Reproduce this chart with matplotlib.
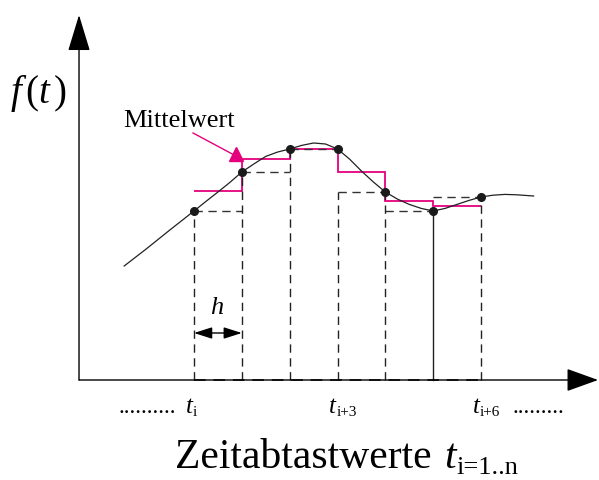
import numpy as np
import matplotlib
matplotlib.use("Agg")
import matplotlib.pyplot as plt

plt.rcParams['font.family'] = ['Liberation Serif', 'DejaVu Serif']
plt.rcParams['mathtext.fontset'] = 'custom'
plt.rcParams['mathtext.rm'] = 'Liberation Serif'
plt.rcParams['mathtext.it'] = 'Liberation Serif:italic'

# Abtastzeitpunkte (Index i .. i+6) und Funktionswerte
t_samples = [0, 1, 2, 3, 4, 5, 6]
f_samples = [8.45, 10.4, 11.55, 11.55, 9.4, 8.45, 9.15]

# Verlauf von f(t)
t_curve = [-1.46, -1.0, -0.5, 0, 0.25, 0.5, 0.75, 1.0, 1.25, 1.5, 1.75, 2.0, 2.25, 2.5,
           2.75, 3.0, 3.25, 3.5, 3.75, 4.0, 4.25, 4.5, 4.75, 5.0, 5.25, 5.5, 5.75, 6.0,
           6.25, 6.5, 6.75, 7.1]
f_curve = [5.7, 6.55, 7.51, 8.45, 8.93, 9.4, 9.88, 10.4, 10.8, 11.18, 11.4, 11.55, 11.73, 11.85,
           11.8, 11.55, 11.05, 10.45, 9.9, 9.4, 9.05, 8.78, 8.58, 8.45, 8.58, 8.78, 8.98, 9.15,
           9.24, 9.28, 9.26, 9.2]

# Mittelwert je Intervall (magenta Treppe)
mittelwert = [9.45, 11.05, 11.55, 10.42, 8.95, 8.7]
# Hoehe der gestrichelten Rechtecke
rect_hoehe = [8.45, 10.4, 11.55, 9.4, 8.45, 9.15]
# obere Enden der senkrechten Linien
vline_top = [8.45, 10.4, 11.55, 9.4, 9.4, 8.45, 9.15]
vline_solid = [False, False, False, False, False, True, False]

tick_pos = [0, 3, 6]
tick_sub = ['i', 'i+3', 'i+6']

MAGENTA = '#E5007D'
DASH = (0, (6, 4))


def t_index(ax, x, y, sub, fs, sub_fs, dx, dy):
    # kursives t mit aufrechtem Index
    ax.text(x, y, 't', fontsize=fs, style='italic', ha='left', va='baseline')
    ax.annotate(sub, xy=(x, y), xytext=(dx, dy), textcoords='offset points',
                fontsize=sub_fs, ha='left', va='baseline')


fig = plt.figure(figsize=(5.99, 4.8), dpi=100)
ax = fig.add_axes([0, 0, 1, 1])
ax.set_xlim(-4.056, 8.467)
ax.set_ylim(-5, 19)
ax.axis('off')

t0 = -2.404  # Lage der f-Achse

# Achsen mit Pfeilen
ax.annotate('', xy=(t0, 18.25), xytext=(t0, 0),
            arrowprops=dict(arrowstyle='-|>,head_length=2.3,head_width=0.7', mutation_scale=10,
                            lw=1.0, color='black', shrinkA=0, shrinkB=0))
ax.annotate('', xy=(8.447, 0), xytext=(t0, 0),
            arrowprops=dict(arrowstyle='-|>,head_length=2.0,head_width=0.72', mutation_scale=10,
                            lw=1.0, color='black', shrinkA=0, shrinkB=0))
ax.plot([t_samples[0], t_samples[-1]], [0, 0], color='#333333', lw=1.4, ls=DASH)

# gestrichelte Rechtecke
for k in range(len(rect_hoehe)):
    ax.plot([t_samples[k], t_samples[k + 1]], [rect_hoehe[k], rect_hoehe[k]],
            color='#333333', lw=1.0, ls=DASH)
for k, t in enumerate(t_samples):
    ax.plot([t, t], [0, vline_top[k]], color='#222222', lw=1.0,
            ls='-' if vline_solid[k] else DASH)

# Mittelwert-Treppe
ax.stairs(mittelwert, t_samples, baseline=None, color=MAGENTA, lw=1.3)

# Funktion und Abtastpunkte
ax.plot(t_curve, f_curve, color='#222222', lw=0.9)
ax.plot(t_samples, f_samples, 'o', color='#1a1a1a', ms=5.5)

# Beschriftung Mittelwert mit Pfeil
ax.text(-1.49, 12.65, 'Mittelwert', fontsize=19, ha='left', va='baseline')
ax.plot([-0.02, 0.80], [12.35, 11.3], color=MAGENTA, lw=1.0)
ax.plot([0.88], [11.3], marker='^', color=MAGENTA, ms=10, mec=MAGENTA)

ax.text(-3.25, 14.35, r'$f\,(t\,)$', fontsize=28, ha='center', va='center')

# Schrittweite h
ax.annotate('', xy=(0, 2.35), xytext=(1, 2.35),
            arrowprops=dict(arrowstyle='<|-|>,head_length=1.1,head_width=0.35', mutation_scale=10,
                            lw=1.0, color='black', shrinkA=0, shrinkB=0))
ax.text(0.48, 3.6, 'h', fontsize=19, style='italic', ha='center', va='center')

# Zeitachse
for p, s in zip(tick_pos, tick_sub):
    t_index(ax, p - 0.17, -1.65, s, 18, 11, 5.2, -2.5)
ax.text(-0.38, -1.65, '..........', fontsize=17, ha='right', va='baseline')
ax.text(6.66, -1.65, '.........', fontsize=17, ha='left', va='baseline')
ax.text(-0.4, -4.4, 'Zeitabtastwerte', fontsize=30, ha='left', va='baseline')
t_index(ax, 5.22, -4.4, 'i=1..n', 30, 19, 8.8, -4.5)

fig.savefig('out.png', dpi=100)
